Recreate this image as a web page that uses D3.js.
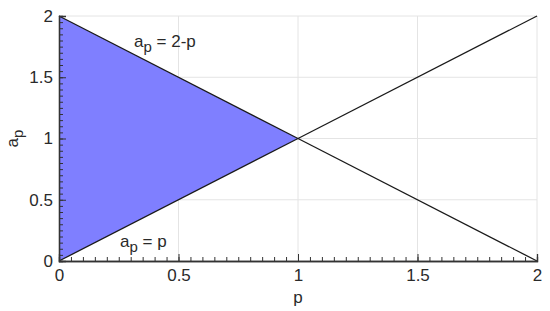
<!DOCTYPE html>
<html>
<head>
<meta charset="utf-8">
<script src="https://cdn.jsdelivr.net/npm/d3@7"></script>
<style>
body { margin: 0; background: #fff; }
svg text, svg tspan { font-family: "Liberation Sans", Arial, sans-serif; fill: #2a2a2a; }
</style>
</head>
<body>
<script>
const pVals = [0, 1, 2];
const lowerLine = [0, 1, 2];   // a_p = p
const upperLine = [2, 1, 0];   // a_p = 2-p
const regionP = [0, 1];
const regionLow = [0, 1];
const regionHigh = [2, 1];
const tickVals = [0, 0.5, 1, 1.5, 2];
const tickLabels = ['0', '0.5', '1', '1.5', '2'];

const width = 550, height = 311;
const margin = { left: 59, right: 13, top: 16, bottom: 50 };

const x = d3.scaleLinear().domain([0, 2]).range([margin.left, width - margin.right]);
const y = d3.scaleLinear().domain([0, 2]).range([height - margin.bottom, margin.top]);

const svg = d3.select('body').append('svg').attr('width', width).attr('height', height);

// grid
svg.append('g').selectAll('line').data(tickVals.slice(1)).join('line')
    .attr('x1', d => x(d)).attr('x2', d => x(d))
    .attr('y1', y(0)).attr('y2', y(2))
    .attr('stroke', '#e4e4e4').attr('stroke-width', 1);
svg.append('g').selectAll('line').data(tickVals.slice(1)).join('line')
    .attr('x1', x(0)).attr('x2', x(2))
    .attr('y1', d => y(d)).attr('y2', d => y(d))
    .attr('stroke', '#e4e4e4').attr('stroke-width', 1);

// shaded region
const area = d3.area()
    .x((d, i) => x(regionP[i]))
    .y0((d, i) => y(regionLow[i]))
    .y1((d, i) => y(regionHigh[i]));
svg.append('path').attr('d', area(regionP)).attr('fill', '#7f7fff');

const line = d3.line().x((d, i) => x(pVals[i])).y(d => y(d));
svg.append('path').attr('d', line(lowerLine)).attr('fill', 'none').attr('stroke', '#1a1a1a').attr('stroke-width', 1.3);
svg.append('path').attr('d', line(upperLine)).attr('fill', 'none').attr('stroke', '#1a1a1a').attr('stroke-width', 1.3);

// minor ticks
const minor = d3.range(0, 2.0001, 0.05);
const xAxisMinor = d3.axisBottom(x).tickValues(minor).tickSize(-4).tickFormat('');
const yAxisMinor = d3.axisLeft(y).tickValues(minor).tickSize(-4).tickFormat('');
const xAxis = d3.axisBottom(x).tickValues(tickVals).tickSize(-7).tickPadding(8)
    .tickFormat((d, i) => tickLabels[i]);
const yAxis = d3.axisLeft(y).tickValues(tickVals).tickSize(-7).tickPadding(6)
    .tickFormat((d, i) => tickLabels[i]);

function styleAxis(g) {
  g.select('.domain').attr('stroke', '#333').attr('stroke-width', 1.3);
  g.selectAll('line').attr('stroke', '#333');
  g.selectAll('text').attr('font-size', 17);
}
svg.append('g').attr('transform', 'translate(0,' + y(0) + ')').call(xAxisMinor).call(styleAxis);
svg.append('g').attr('transform', 'translate(' + x(0) + ',0)').call(yAxisMinor).call(styleAxis);
svg.append('g').attr('transform', 'translate(0,' + y(0) + ')').call(xAxis).call(styleAxis);
svg.append('g').attr('transform', 'translate(' + x(0) + ',0)').call(yAxis).call(styleAxis);

// axis labels
svg.append('text').attr('x', x(1)).attr('y', 303).attr('text-anchor', 'middle')
    .attr('font-size', 17).text('p');
const yl = svg.append('text').attr('transform', 'translate(18,' + y(1) + ') rotate(-90)')
    .attr('text-anchor', 'middle').attr('font-size', 17);
yl.append('tspan').text('a');
yl.append('tspan').attr('dy', 5).attr('font-size', 15).text('p');

// annotations
function label(px, py, rhs) {
  const t = svg.append('text').attr('x', px).attr('y', py).attr('font-size', 17);
  t.append('tspan').text('a');
  t.append('tspan').attr('dy', 5).attr('font-size', 15).text('p');
  t.append('tspan').attr('dy', -5).text(' = ' + rhs);
}
label(134, 47, '2-p');
label(120, 247, 'p');
</script>
</body>
</html>
